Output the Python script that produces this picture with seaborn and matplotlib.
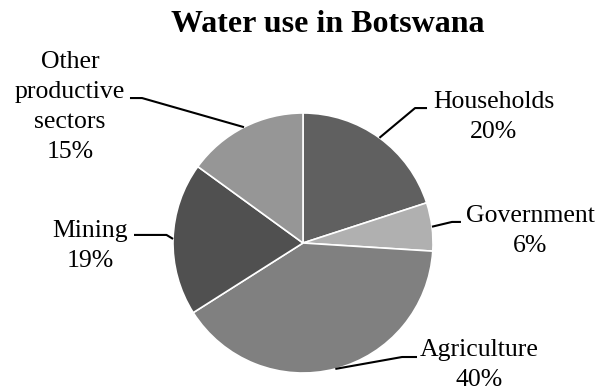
import numpy as np
import matplotlib
matplotlib.use("Agg")
import matplotlib.pyplot as plt
import seaborn as sns

# data
sectors = ["Households", "Government", "Agriculture", "Mining", "Other\nproductive\nsectors"]
shares = [20, 6, 40, 19, 15]
greys = ["#606060", "#b0b0b0", "#808080", "#505050", "#969696"]

sns.set_style("white")
plt.rcParams["font.family"] = ["Liberation Serif", "DejaVu Serif"]

W, H = 598, 392
fig = plt.figure(figsize=(W / 100, H / 100), dpi=100)
# pie centre (303, 243) px, radius 130 px
cx, cy, r = 303, 243, 130
ax = fig.add_axes([(cx - r) / W, (H - cy - r) / H, 2 * r / W, 2 * r / H])

wedges, _ = ax.pie(shares, colors=greys, startangle=90, counterclock=False,
                   wedgeprops=dict(edgecolor="white", linewidth=1.2))
ax.set_xlim(-1, 1)
ax.set_ylim(-1, 1)
ax.set_aspect("equal")

# label layout: (elbow point, line end, text x, first baseline) in pie units
layout = [
    ((0.862, 1.038), (0.954, 1.038), 1.465, 1.038),
    ((1.146, 0.162), (1.215, 0.162), 1.746, 0.162),
    ((0.762, -0.877), (0.877, -0.877), 1.354, -0.870),
    ((-1.05, 0.062), (-1.30, 0.062), -1.638, 0.046),
    ((-1.238, 1.115), (-1.331, 1.115), -1.792, 1.346),
]
step = 30 / r  # line spacing in pie units

for w, name, pct, (elbow, end, tx, ty) in zip(wedges, sectors, shares, layout):
    mid = np.deg2rad((w.theta1 + w.theta2) / 2)
    start = (np.cos(mid), np.sin(mid))
    ax.plot([start[0], elbow[0], end[0]], [start[1], elbow[1], end[1]],
            color="black", lw=1.5, clip_on=False, solid_capstyle="butt")
    for i, line in enumerate(name.split("\n") + [f"{pct}%"]):
        ax.text(tx, ty - i * step, line, ha="center", va="baseline",
                fontsize=18.5, color="black")

fig.text(328 / W, 1 - 32 / H, "Water use in Botswana", ha="center", va="baseline",
         fontsize=23, fontweight="bold", color="black")

fig.savefig("out.png", dpi=100)
